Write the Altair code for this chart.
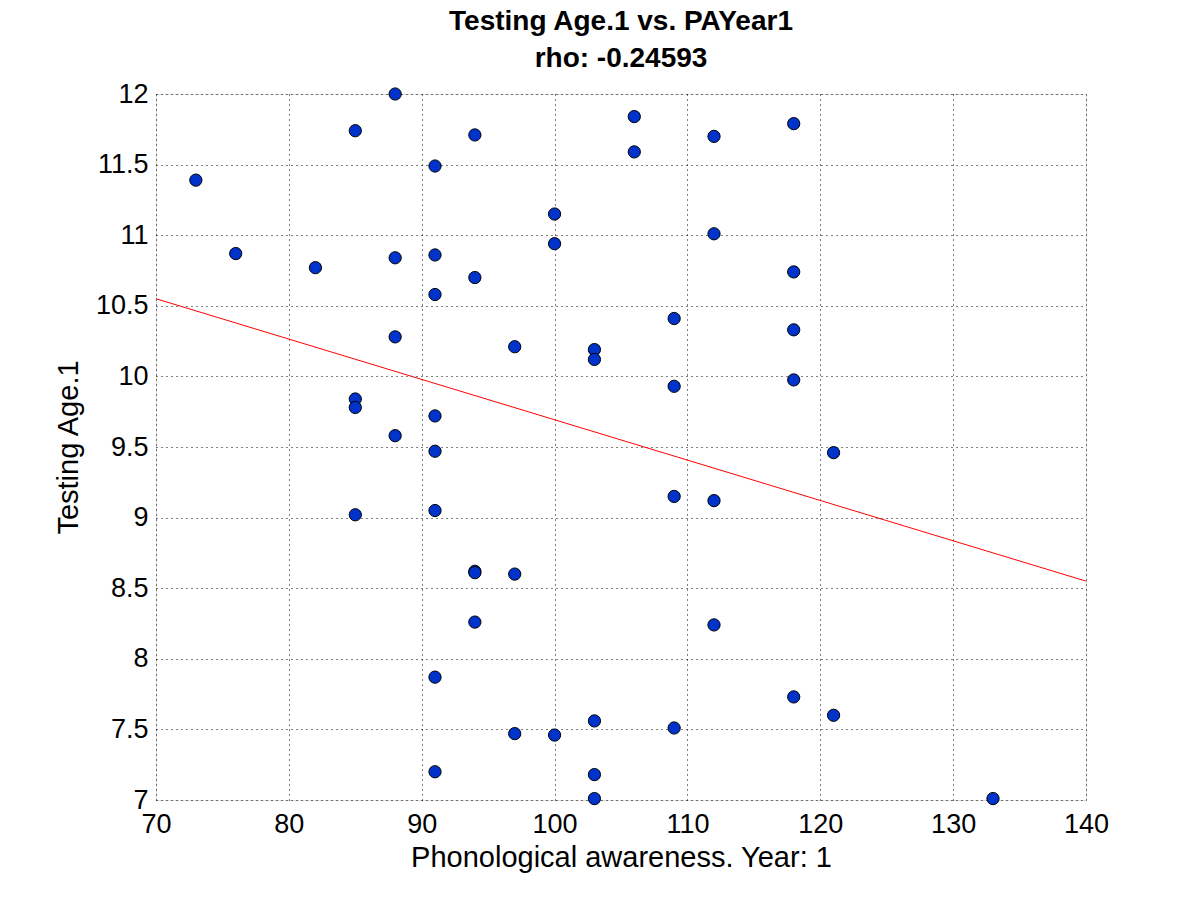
import altair as alt
import pandas as pd

# Scatter data
pa_year1 = [73, 76, 82,
            85, 85, 85, 85,
            88, 88, 88, 88,
            91, 91, 91, 91, 91, 91, 91, 91,
            94, 94, 94, 94, 94,
            97, 97, 97,
            100, 100, 100,
            103, 103, 103, 103, 103,
            106, 106,
            109, 109, 109, 109,
            112, 112, 112, 112,
            118, 118, 118, 118, 118,
            121, 121,
            133]
testing_age = [11.39, 10.87, 10.77,
               11.74, 9.84, 9.78, 9.02,
               12.00, 10.84, 10.28, 9.58,
               11.49, 10.86, 10.58, 9.72, 9.47, 9.05, 7.87, 7.20,
               11.71, 10.70, 8.62, 8.61, 8.26,
               10.21, 8.60, 7.47,
               11.15, 10.94, 7.46,
               10.19, 10.12, 7.56, 7.18, 7.01,
               11.84, 11.59,
               10.41, 9.93, 9.15, 7.51,
               11.70, 11.01, 9.12, 8.24,
               11.79, 10.74, 10.33, 9.975, 7.73,
               9.46, 7.60,
               7.01]

# Least-squares line endpoints
fit_x = [70, 140]
fit_y = [10.55, 8.55]

x_ticks = [70, 80, 90, 100, 110, 120, 130, 140]
y_ticks = [7, 7.5, 8, 8.5, 9, 9.5, 10, 10.5, 11, 11.5, 12]

df = pd.DataFrame({"PA": pa_year1, "Age": testing_age})
fit = pd.DataFrame({"PA": fit_x, "Age": fit_y})

FONT = "Liberation Sans"

x_scale = alt.Scale(domain=[70, 140], nice=False, zero=False)
y_scale = alt.Scale(domain=[7, 12], nice=False, zero=False)

x_axis = alt.Axis(
    title="Phonological awareness. Year: 1",
    values=x_ticks, format="d",
    grid=True, gridColor="black", gridDash=[1, 4], gridOpacity=1, gridWidth=1,
    ticks=False, domain=False,
    labelFont=FONT, labelFontSize=27, labelColor="black", labelPadding=11,
    labelFlush=False, labelOverlap=False,
    titleFont=FONT, titleFontSize=29, titleFontWeight="normal", titleColor="black",
    titleY=57, titleBaseline="middle",
)
y_axis = alt.Axis(
    title="Testing Age.1",
    values=y_ticks, format=".1~f",
    grid=True, gridColor="black", gridDash=[1, 4], gridOpacity=1, gridWidth=1,
    ticks=False, domain=False,
    labelFont=FONT, labelFontSize=27, labelColor="black", labelPadding=8,
    labelFlush=False, labelOverlap=False,
    titleFont=FONT, titleFontSize=29, titleFontWeight="normal", titleColor="black",
    titleX=-88, titleY=353, titleBaseline="middle", titleAngle=-90,
)

line = alt.Chart(fit).mark_line(color="red", strokeWidth=1, clip=True).encode(
    x=alt.X("PA:Q", scale=x_scale, axis=x_axis),
    y=alt.Y("Age:Q", scale=y_scale, axis=y_axis),
)

points = alt.Chart(df).mark_circle(
    size=150, color="#0033CC", opacity=1, stroke="black", strokeWidth=1, clip=False
).encode(
    x=alt.X("PA:Q", scale=x_scale),
    y=alt.Y("Age:Q", scale=y_scale),
)

chart = alt.layer(line, points).properties(
    width=930,
    height=706,
    title=alt.TitleParams(
        text=["Testing Age.1 vs. PAYear1", "rho: -0.24593"],
        font=FONT, fontSize=28, fontWeight="bold", color="black",
        anchor="middle", lineHeight=37, offset=7,
    ),
    padding={"left": 148, "top": 86, "right": 100, "bottom": 90},
    autosize=alt.AutoSizeParams(type="none"),
).configure_view(
    stroke="black", strokeWidth=1
).configure(background="white")

chart.save("out.html", embed_options={"renderer": "svg", "actions": False})
